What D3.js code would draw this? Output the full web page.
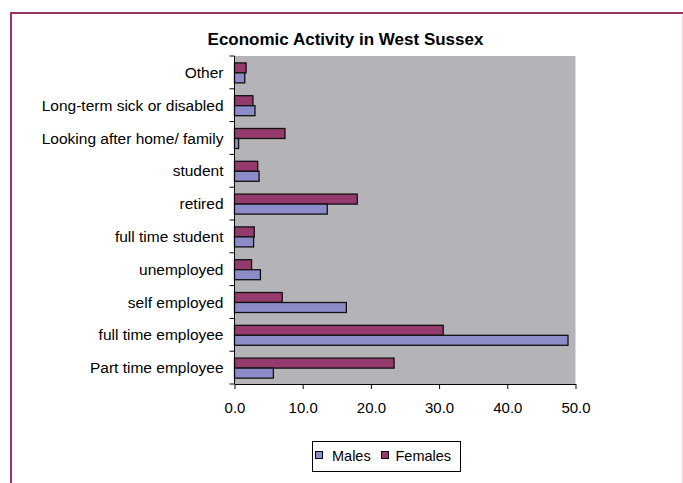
<!DOCTYPE html>
<html><head><meta charset="utf-8">
<script src="https://cdn.jsdelivr.net/npm/d3@7"></script>
<style>body{margin:0;background:#fff;}svg{display:block;font-family:"Liberation Sans",Arial,sans-serif;}</style>
</head><body>
<svg id="c" width="683" height="483"></svg>
<script>
const categories = ["Other","Long-term sick or disabled","Looking after home/ family","student","retired","full time student","unemployed","self employed","full time employee","Part time employee"];
const males =   [1.5, 3.0, 0.6, 3.6, 13.6, 2.8, 3.8, 16.4, 48.9, 5.7];
const females = [1.7, 2.7, 7.4, 3.4, 18.0, 2.9, 2.5, 7.0, 30.6, 23.4];
const seriesNames = ["Males","Females"];
const xTicks = [0,10,20,30,40,50];
const title = "Economic Activity in West Sussex";

const svg = d3.select("#c");
const colors = {Males:"#8c8cc8", Females:"#953a6c"};

// frame
svg.append("line").attr("x1",11).attr("x2",683).attr("y1",13).attr("y2",13).attr("stroke","#993366").attr("stroke-width",2);
svg.append("line").attr("x1",11).attr("x2",11).attr("y1",12).attr("y2",483).attr("stroke","#993366").attr("stroke-width",2);
svg.append("line").attr("x1",682.5).attr("x2",682.5).attr("y1",14).attr("y2",483).attr("stroke","#ecd5e2").attr("stroke-width",1);

const L=234.5, R=575.5, T=56, B=384;
const x = d3.scaleLinear().domain([0,50]).range([L,R]);
const y = d3.scaleBand().domain(categories).range([T,B]);
const inner = d3.scaleBand().domain(["Females","Males"]).range([0,20]);

svg.append("rect").attr("x",L).attr("y",T).attr("width",R-L).attr("height",B-T).attr("fill","#b4b4b8");

svg.append("text").attr("x",345.5).attr("y",45).attr("text-anchor","middle")
  .attr("font-size",17).attr("font-weight","bold").text(title);

const data = categories.map((c,i)=>({c, Males:males[i], Females:females[i]}));
const g = svg.append("g");
data.forEach(d=>{
  ["Females","Males"].forEach(s=>{
    g.append("rect")
      .attr("x",x(0)).attr("y",y(d.c)+ (y.bandwidth()-20)/2 + inner(s) + 0.5)
      .attr("width",x(d[s])-x(0)).attr("height",inner.bandwidth())
      .attr("fill",colors[s]).attr("stroke","#111").attr("stroke-width",1.3);
  });
});

// axes
const xAxis = d3.axisBottom(x).tickValues(xTicks).tickFormat(d3.format(".1f")).tickSize(5).tickSizeOuter(0);
const gx = svg.append("g").attr("transform",`translate(0,${B})`).call(xAxis);
gx.select(".domain").attr("stroke","#000");
gx.selectAll("text").attr("font-size",15).attr("font-family","Liberation Sans, Arial, sans-serif")
  .attr("y",29).attr("dy",null).attr("fill","#000");

const yAxis = d3.axisLeft(y).tickSize(0).tickPadding(11);
const gy = svg.append("g").attr("transform",`translate(${L},0)`).call(yAxis);
gy.select(".domain").attr("stroke","#000").attr("d",`M0,${T}V${B}`);
gy.selectAll("text").attr("font-size",15.5).attr("font-family","Liberation Sans, Arial, sans-serif").attr("fill","#000").attr("dy","0.36em");
// category separator ticks
const bounds = categories.map(c=>y(c)).concat([B]);
svg.append("g").selectAll("line").data(bounds).join("line")
  .attr("x1",L-5).attr("x2",L).attr("y1",d=>d).attr("y2",d=>d).attr("stroke","#000");

// legend
const lg = svg.append("g");
lg.append("rect").attr("x",312.5).attr("y",441.5).attr("width",148).attr("height",30).attr("fill","#fff").attr("stroke","#000");
const lx = [315, 381];
const tx = [332, 395.5];
seriesNames.forEach((s,i)=>{
  lg.append("rect").attr("x",lx[i]+0.5).attr("y",451.5).attr("width",7).attr("height",7).attr("fill",colors[s]).attr("stroke","#000");
  lg.append("text").attr("x",tx[i]).attr("y",461).attr("font-size",14.5).text(s);
});
</script>
</body></html>
